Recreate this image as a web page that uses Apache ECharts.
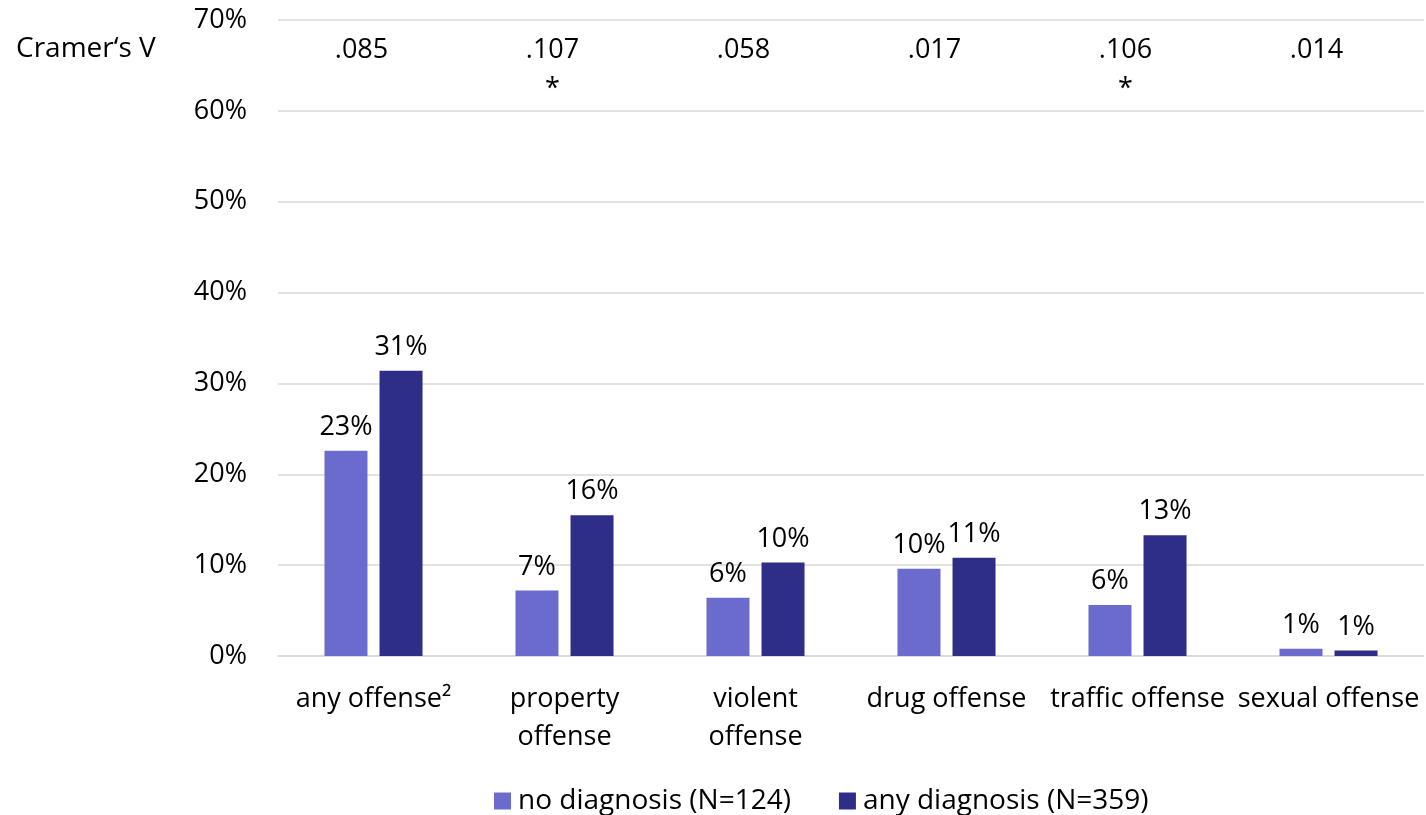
<!DOCTYPE html>
<html>
<head>
<meta charset="utf-8">
<script src="https://cdn.jsdelivr.net/npm/echarts@6/dist/echarts.min.js"></script>
<style>html,body{margin:0;padding:0;background:#fff}#c{width:1426px;height:815px}</style>
</head>
<body>
<div id="c"></div>
<script>
const categories = ['any offense²', 'property\noffense', 'violent\noffense', 'drug offense', 'traffic offense', 'sexual offense'];
const noDiagnosis = [22.6, 7.2, 6.4, 9.6, 5.6, 0.8];
const anyDiagnosis = [31.4, 15.5, 10.3, 10.8, 13.3, 0.6];
const cramersV = ['.085', '.107', '.058', '.017', '.106', '.014'];
const significant = [false, true, false, false, true, false];
const yTicks = [0, 10, 20, 30, 40, 50, 60, 70];
const seriesNames = ['no diagnosis (N=124)', 'any diagnosis (N=359)'];

const FONT = 'Open Sans';
const chart = echarts.init(document.getElementById('c'));
const labelCfg = {
  show: true, position: 'top', distance: 10,
  fontFamily: FONT, fontSize: 27, color: '#000',
  formatter: p => Math.round(p.value) + '%'
};
chart.setOption({
  animation: false,
  textStyle: { fontFamily: FONT },
  title: {
    text: 'Cramer‘s V', left: 11, top: 30,
    textStyle: { fontFamily: FONT, fontSize: 28, fontWeight: 'normal', color: '#000' }
  },
  grid: { left: 278, right: 2, top: 20, bottom: 159 },
  legend: {
    left: 489, top: 782, itemWidth: 17, itemHeight: 17, itemGap: 48,
    icon: 'rect',
    textStyle: { fontFamily: FONT, fontSize: 28, color: '#000', padding: [0, 0, 0, 2] },
    data: seriesNames
  },
  xAxis: [
    {
      type: 'category', data: categories, position: 'bottom',
      axisLine: { lineStyle: { color: '#d9d9d9', width: 1.5 } },
      axisTick: { show: false },
      axisLabel: { interval: 0, margin: 24, fontFamily: FONT, fontSize: 27, color: '#000', lineHeight: 38 }
    },
    {
      type: 'category', data: cramersV.map((v, i) => v + (significant[i] ? '\n*' : '')),
      position: 'top',
      axisLine: { show: false }, axisTick: { show: false },
      axisLabel: { inside: true, interval: 0, margin: 11, fontFamily: FONT, fontSize: 27, color: '#000', lineHeight: 39, padding: [0, 24, 0, 0] }
    }
  ],
  yAxis: {
    type: 'value', min: 0, max: 70, interval: 10,
    axisLine: { show: false }, axisTick: { show: false },
    splitLine: { lineStyle: { color: '#d9d9d9', width: 1.5 } },
    axisLabel: { margin: 31, fontFamily: FONT, fontSize: 27, color: '#000', formatter: v => yTicks.includes(v) ? v + '%' : '' }
  },
  series: [
    { name: seriesNames[0], type: 'bar', data: noDiagnosis, barWidth: 43, barGap: '28%',
      itemStyle: { color: '#6B6BCE' }, label: labelCfg },
    { name: seriesNames[1], type: 'bar', data: anyDiagnosis, barWidth: 43, barGap: '28%',
      itemStyle: { color: '#2E2E88' }, label: labelCfg }
  ]
});
</script>
</body>
</html>
